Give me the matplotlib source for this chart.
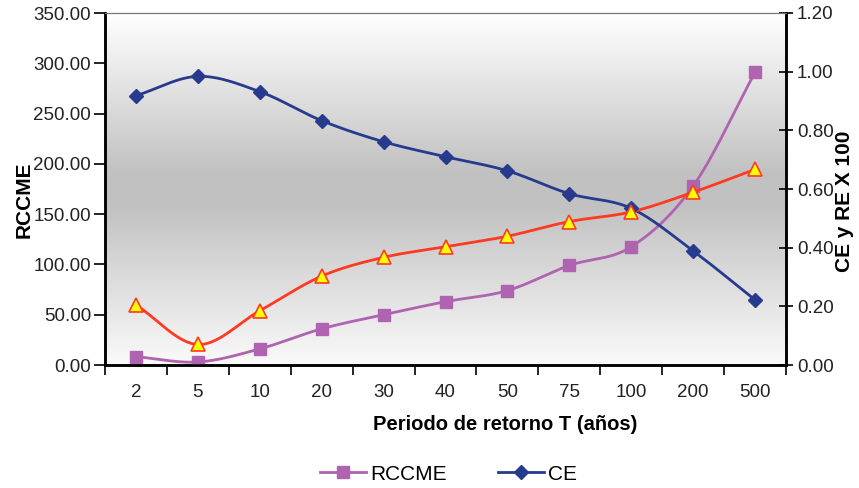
import numpy as np
import matplotlib
matplotlib.use("Agg")
import matplotlib.pyplot as plt
from matplotlib.lines import Line2D

plt.rcParams['font.family'] = ['Liberation Sans', 'DejaVu Sans']

# donnees
periodos = ['2', '5', '10', '20', '30', '40', '50', '75', '100', '200', '500']
rccme = [8.3, 3.0, 16.0, 36.0, 50.0, 63.0, 74.0, 99.0, 117.5, 178.0, 291.0]
ce = [0.918, 0.984, 0.932, 0.833, 0.761, 0.710, 0.662, 0.584, 0.534, 0.389, 0.222]
re = [0.205, 0.070, 0.185, 0.303, 0.367, 0.403, 0.439, 0.489, 0.522, 0.589, 0.667]

c_rccme = '#B063B0'
c_ce = '#263A8E'
c_re = '#FF3A22'


def lisser(x, y, n=30):
    """Courbe lissee (Catmull-Rom) passant par les points, comme dans Excel."""
    x = np.asarray(x, float)
    y = np.asarray(y, float)
    px = np.concatenate([[2 * x[0] - x[1]], x, [2 * x[-1] - x[-2]]])
    py = np.concatenate([[2 * y[0] - y[1]], y, [2 * y[-1] - y[-2]]])
    xs, ys = [], []
    t = np.linspace(0, 1, n)
    for i in range(1, len(px) - 2):
        for p, out in ((px, xs), (py, ys)):
            p0, p1, p2, p3 = p[i - 1], p[i], p[i + 1], p[i + 2]
            m1 = (p2 - p0) / 2.0
            m2 = (p3 - p1) / 2.0
            h00 = 2 * t**3 - 3 * t**2 + 1
            h10 = t**3 - 2 * t**2 + t
            h01 = -2 * t**3 + 3 * t**2
            h11 = t**3 - t**2
            out.extend(h00 * p1 + h10 * m1 + h01 * p2 + h11 * m2)
    return np.array(xs), np.array(ys)


x = np.arange(len(periodos))

fig = plt.figure(figsize=(8.59, 4.88), dpi=100)
ax = fig.add_axes([105 / 859, 1 - 365 / 488, 681 / 859, 352 / 488])
ax2 = ax.twinx()

# fond en degrade (blanc en haut et en bas, gris au milieu)
v = np.linspace(0, 1, 256)
g = np.interp(v, [0, 0.45, 0.55, 1.0], [0.98, 0.76, 0.76, 1.0])
grad = np.dstack([g, g, g]).reshape(256, 1, 3)
ax.imshow(grad, extent=[0, 1, 0, 1], transform=ax.transAxes, aspect='auto',
          origin='lower', zorder=0)

xr, yr = lisser(x, rccme)
ax.plot(xr, yr, color=c_rccme, lw=2, zorder=3)
ax.plot(x, rccme, ls='none', marker='s', ms=9, color=c_rccme, zorder=4)

xc, yc = lisser(x, ce)
ax2.plot(xc, yc, color=c_ce, lw=2, zorder=3)
ax2.plot(x, ce, ls='none', marker='D', ms=7, color=c_ce, zorder=4)

xe, ye = lisser(x, re)
ax2.plot(xe, ye, color=c_re, lw=2, zorder=3)
ax2.plot(x, re, ls='none', marker='^', ms=10, markerfacecolor='#FFFF00',
         markeredgecolor=c_re, markeredgewidth=1.2, zorder=4)

ax.set_xlim(-0.5, len(periodos) - 0.5)
ax.set_ylim(0, 350)
ax2.set_ylim(0, 1.2)
ax.set_yticks(np.arange(0, 351, 50))
ax.set_yticklabels(['%.2f' % t for t in np.arange(0, 351, 50)])
ax2.set_yticks(np.arange(0, 1.21, 0.2))
ax2.set_yticklabels(['%.2f' % t for t in np.arange(0, 1.21, 0.2)])

ax.set_xticks(np.arange(-0.5, len(periodos), 1.0))
ax.set_xticklabels([])
ax.set_xticks(x, minor=True)
ax.set_xticklabels(periodos, minor=True)
ax.tick_params(axis='x', which='major', direction='out', length=7, width=1.2)
ax.tick_params(axis='x', which='minor', length=0, pad=14, labelsize=13.5, labelcolor='#222222')
ax.tick_params(axis='y', direction='out', length=8, width=1.2, labelsize=13.5,
               labelcolor='#222222', pad=2)
ax2.tick_params(axis='y', direction='inout', length=10, width=1.2, labelsize=13.5,
                labelcolor='#222222', pad=3)

for a in (ax, ax2):
    a.spines['top'].set_color('#777777')
    a.spines['left'].set_linewidth(1.8)
    a.spines['bottom'].set_linewidth(1.8)
    a.spines['right'].set_linewidth(1.8)
ax.patch.set_visible(False)
ax2.set_zorder(ax.get_zorder() + 1)

ax.set_ylabel('RCCME', fontsize=15, fontweight='bold', labelpad=0)
ax2.set_ylabel('CE y RE X 100', fontsize=15, fontweight='bold', rotation=90, labelpad=1)
ax.set_xlabel('Periodo de retorno T (años)', fontsize=14.5, fontweight='bold', labelpad=10)
# titres un peu decales comme dans l'original
ax.xaxis.label.set_x(0.587)
ax.yaxis.label.set_y(0.47)
ax2.yaxis.label.set_y(0.465)

poignees = [Line2D([], [], color=c_rccme, lw=2, marker='s', ms=9),
            Line2D([], [], color=c_ce, lw=2, marker='D', ms=7)]
fig.legend(poignees, ['RCCME', 'CE'], loc='center', bbox_to_anchor=(0.522, 1 - 474 / 488),
           ncol=2, frameon=False, fontsize=15, handlelength=2.2, columnspacing=2.45,
           handletextpad=0.2)

fig.savefig('out.png', dpi=100)
